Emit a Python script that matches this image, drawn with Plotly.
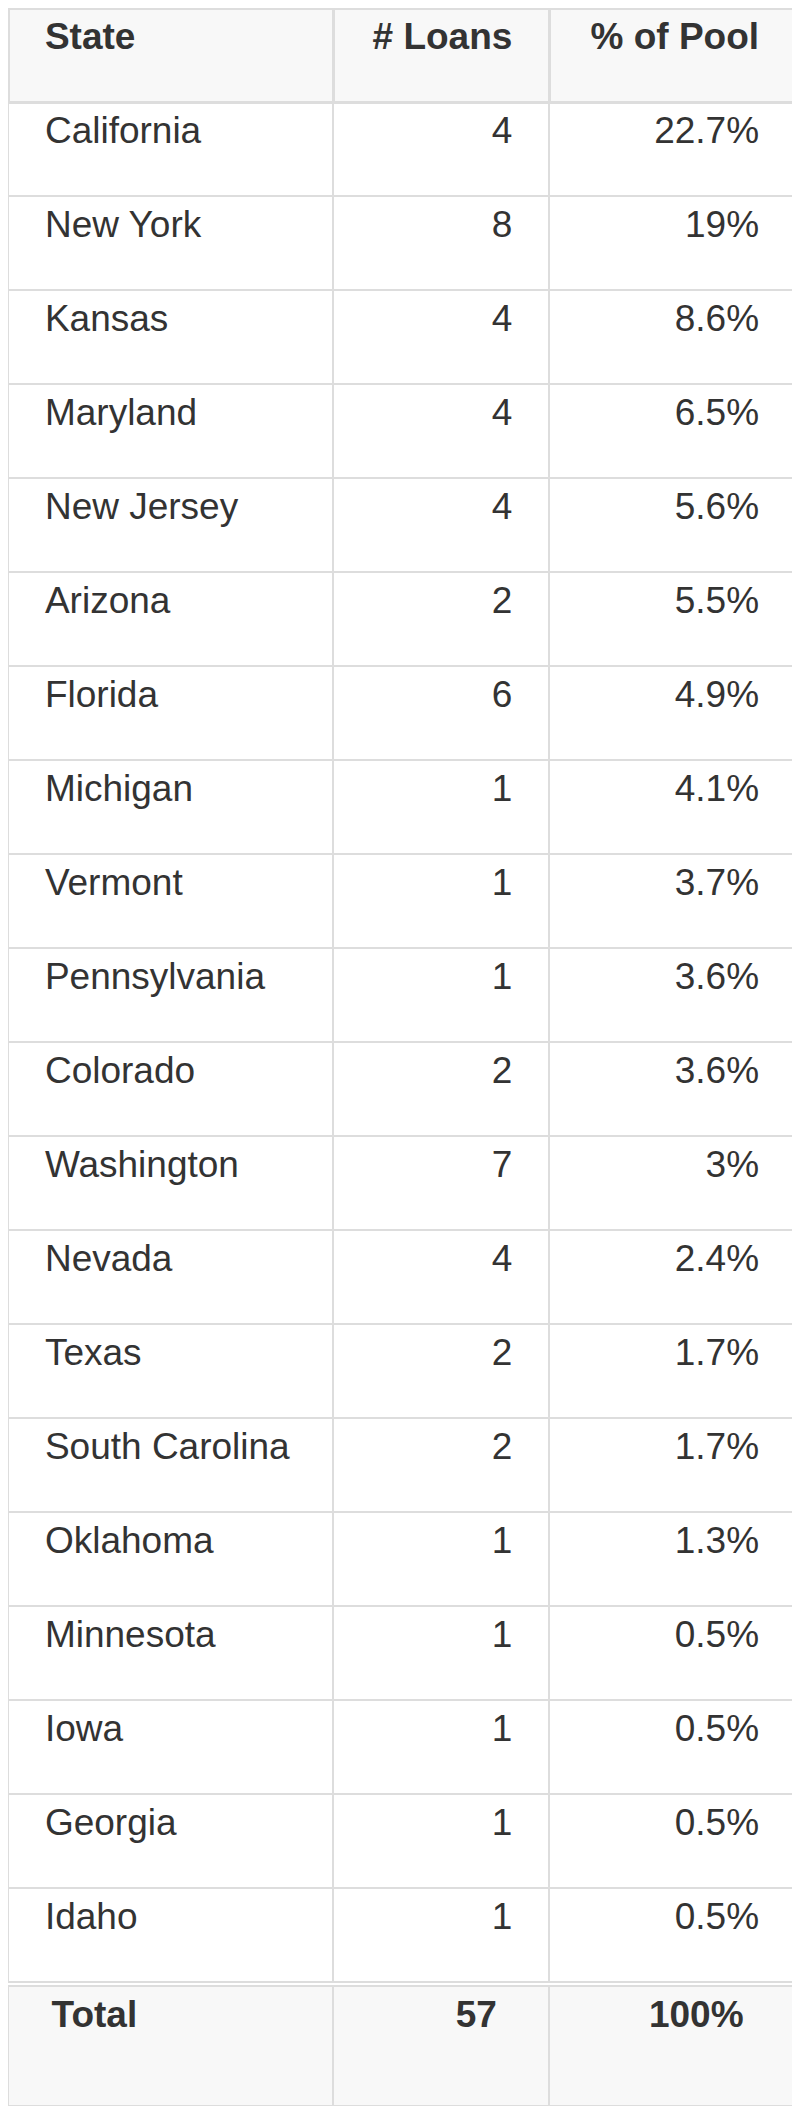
import plotly.graph_objects as go

columns = ["State", "# Loans", "% of Pool"]
states = ["California", "New York", "Kansas", "Maryland", "New Jersey", "Arizona", "Florida",
          "Michigan", "Vermont", "Pennsylvania", "Colorado", "Washington", "Nevada", "Texas",
          "South Carolina", "Oklahoma", "Minnesota", "Iowa", "Georgia", "Idaho"]
loans = [4, 8, 4, 4, 4, 2, 6, 1, 1, 1, 2, 7, 4, 2, 2, 1, 1, 1, 1, 1]
pool = ["22.7%", "19%", "8.6%", "6.5%", "5.6%", "5.5%", "4.9%", "4.1%", "3.7%", "3.6%",
        "3.6%", "3%", "2.4%", "1.7%", "1.7%", "1.3%", "0.5%", "0.5%", "0.5%", "0.5%"]
total = ["Total", "57", "100%"]

W, H = 796, 2110
TW = 788
border = "#dddddd"
widths = [327, 217, 248]
NB = "\u00a0"

def big(t, bold=False):
    s = "<span style='font-size:37px'>" + t + "</span>"
    return "<br>" + ("<b>" + s + "</b>" if bold else s)

def left(t, bold=False, extra=0):
    return "<br>" + NB * (4 + extra) + big(t, bold)[4:]

def right(t, bold=False, extra=0):
    return big(t, bold) + NB * (4 + extra)

def yd(top, bottom):
    return [1 - bottom / H, 1 - top / H]

basefont = dict(family="Liberation Sans, Arial, sans-serif", size=26, color="#333333")
totfont = dict(family="Liberation Sans, Arial, sans-serif", size=32, color="#333333")

fig = go.Figure()
fig.add_trace(go.Table(
    domain=dict(x=[0, TW / W], y=yd(0, 1978)),
    columnwidth=widths,
    header=dict(
        values=[left(columns[0], True), right(columns[1], True), right(columns[2], True)],
        align=["left", "right", "right"], height=94,
        fill_color="#f8f8f8", line=dict(color=border, width=3), font=basefont),
    cells=dict(
        values=[[left(s) for s in states], [right(str(v)) for v in loans],
                [right(p) for p in pool]],
        align=["left", "right", "right"], height=94,
        fill_color="white", line=dict(color=border, width=2), font=basefont),
))
fig.add_trace(go.Table(
    domain=dict(x=[0, TW / W], y=yd(1978, 2098)),
    columnwidth=widths,
    header=dict(
        values=["<br>" + NB * 4 + "<b><span style='font-size:37px'>" + total[0] + "</span></b>",
                "<br><b><span style='font-size:37px'>" + total[1] + "</span></b>" + NB * 5,
                "<br><b><span style='font-size:37px'>" + total[2] + "</span></b>" + NB * 5],
        align=["left", "right", "right"], height=120,
        fill_color="#f8f8f8", line=dict(color=border, width=2), font=totfont),
    cells=dict(values=[[], [], []]),
))
fig.update_layout(width=W, height=H, margin=dict(l=0, r=0, t=0, b=0),
                  paper_bgcolor="white")
fig.write_html("out.html")
